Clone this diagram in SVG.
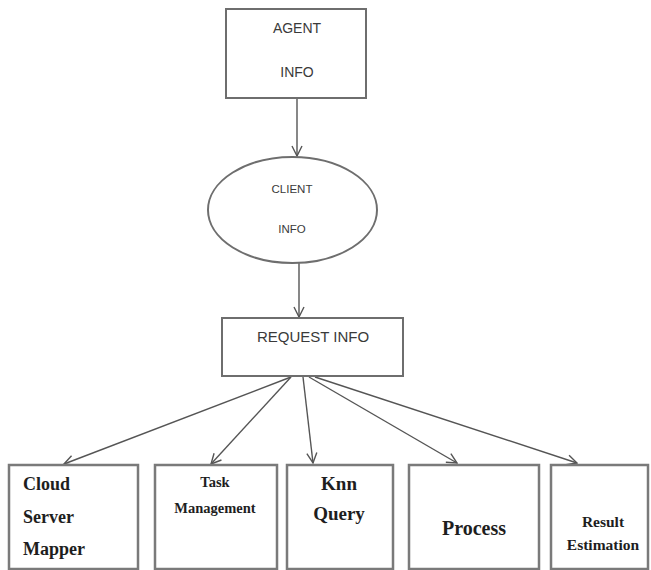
<svg xmlns="http://www.w3.org/2000/svg" width="651" height="570" viewBox="0 0 651 570">
  <style>
    .box { fill: #ffffff; stroke: #6e6e6e; stroke-width: 2; }
    .sbox { fill: #ffffff; stroke: #7a7a7a; stroke-width: 2.5; }
    .sans { font-family: "Liberation Sans", Arial, sans-serif; fill: #3a3a3a; text-anchor: middle; }
    .serif { font-family: "Liberation Serif", "Times New Roman", serif; font-weight: bold; fill: #1e1e1e; }
    .edge { stroke: #555555; stroke-width: 1.4; fill: none; marker-end: url(#arrow); }
  </style>
  <defs>
    <marker id="arrow" viewBox="0 0 12 12" refX="11" refY="6" markerWidth="12" markerHeight="12" markerUnits="userSpaceOnUse" orient="auto">
      <path d="M1,1 L11,6 L1,11" fill="none" stroke="#555555" stroke-width="1.4"/>
    </marker>
  </defs>
  <rect width="651" height="570" fill="#ffffff"/>

  <g id="connectors">
    <line class="edge" x1="297" y1="98" x2="297" y2="156"/>
    <line class="edge" x1="299" y1="263" x2="299" y2="317"/>
    <line class="edge" x1="291" y1="377" x2="64" y2="464"/>
    <line class="edge" x1="291" y1="377" x2="211" y2="464"/>
    <line class="edge" x1="303" y1="377" x2="313" y2="463"/>
    <line class="edge" x1="309" y1="377" x2="457" y2="463"/>
    <line class="edge" x1="315" y1="377" x2="577" y2="463"/>
  </g>

  <g id="agent-info">
    <rect class="box" x="226" y="9" width="140" height="89"/>
    <text class="sans" x="297" y="33" font-size="14">AGENT</text>
    <text class="sans" x="297" y="77" font-size="14">INFO</text>
  </g>

  <g id="client-info">
    <ellipse class="box" cx="292.5" cy="210" rx="84.5" ry="53" stroke-width="1.6"/>
    <text class="sans" x="292" y="193" font-size="11.5">CLIENT</text>
    <text class="sans" x="292" y="233" font-size="11.5">INFO</text>
  </g>

  <g id="request-info">
    <rect class="box" x="222" y="318" width="181" height="58" stroke-width="1.6"/>
    <text class="sans" x="313" y="342" font-size="15">REQUEST INFO</text>
  </g>

  <g id="cloud-server-mapper">
    <rect class="sbox" x="9" y="465" width="129" height="104"/>
    <text class="serif" x="23" y="490" font-size="18">Cloud</text>
    <text class="serif" x="23" y="523" font-size="18">Server</text>
    <text class="serif" x="23" y="555" font-size="18">Mapper</text>
  </g>

  <g id="task-management">
    <rect class="sbox" x="155" y="465" width="122" height="104"/>
    <text class="serif" x="215" y="487" font-size="14.5" text-anchor="middle">Task</text>
    <text class="serif" x="215" y="513" font-size="14.5" text-anchor="middle">Management</text>
  </g>

  <g id="knn-query">
    <rect class="sbox" x="287" y="465" width="106" height="104"/>
    <text class="serif" x="339" y="490" font-size="19" text-anchor="middle">Knn</text>
    <text class="serif" x="339" y="520" font-size="19" text-anchor="middle">Query</text>
  </g>

  <g id="process">
    <rect class="sbox" x="409" y="465" width="130" height="104"/>
    <text class="serif" x="474" y="535" font-size="20" text-anchor="middle">Process</text>
  </g>

  <g id="result-estimation">
    <rect class="sbox" x="551" y="465" width="97" height="104"/>
    <text class="serif" x="603" y="527" font-size="15.5" text-anchor="middle">Result</text>
    <text class="serif" x="603" y="550" font-size="15.5" text-anchor="middle">Estimation</text>
  </g>
</svg>
